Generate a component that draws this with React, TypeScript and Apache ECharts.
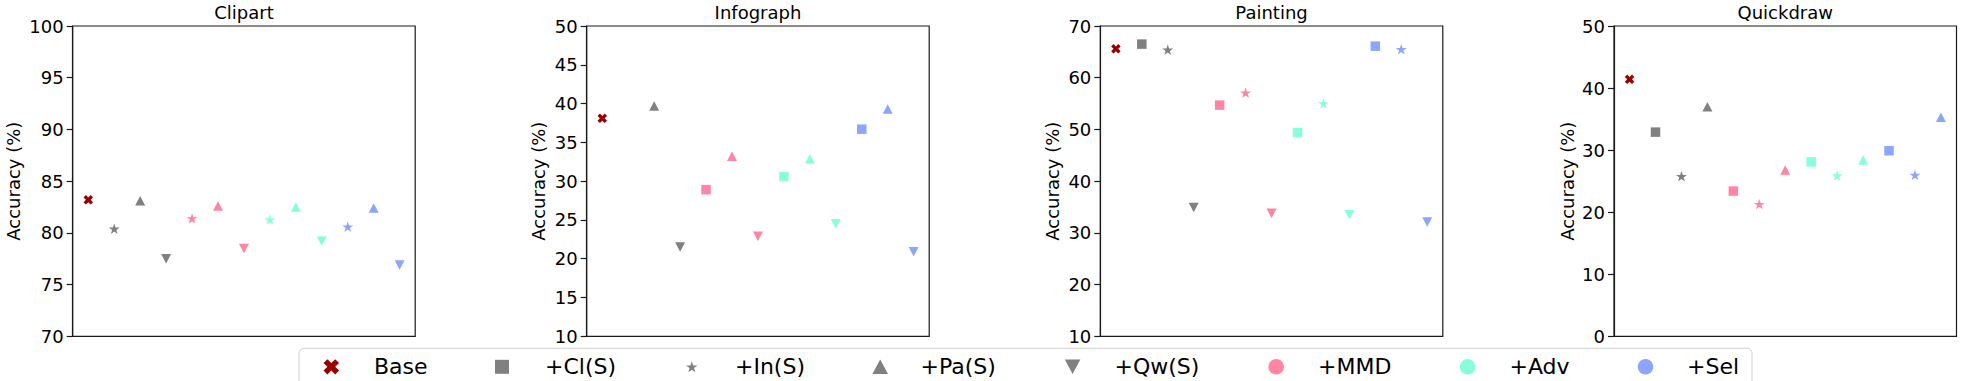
import React, { useEffect, useRef } from "react";
import * as echarts from "echarts";

// ---------------- data ----------------
const panelTitles = ["Clipart", "Infograph", "Painting", "Quickdraw"];
const yMinVals = [70, 10, 10, 0];
const yMaxVals = [100, 50, 70, 50];
const yStepVals = [5, 5, 10, 10];

// sources used in each panel (target domain excluded)
const panelSources = [
  ["+In(S)", "+Pa(S)", "+Qw(S)"],
  ["+Cl(S)", "+Pa(S)", "+Qw(S)"],
  ["+Cl(S)", "+In(S)", "+Qw(S)"],
  ["+Cl(S)", "+In(S)", "+Pa(S)"],
];

const baseAcc = [83.2, 38.1, 65.6, 41.4];
const srcOnlyAcc = [
  [80.4, 83.1, 77.5],
  [null, 39.7, 21.5],
  [66.5, 65.4, 34.9],
  [32.9, 25.8, 37.0],
];
const mmdAcc = [
  [81.4, 82.6, 78.5],
  [28.9, 33.2, 22.9],
  [54.7, 57.1, 33.8],
  [23.4, 21.3, 26.8],
];
const advAcc = [
  [81.3, 82.5, 79.2],
  [30.6, 32.9, 24.5],
  [49.4, 55.0, 33.5],
  [28.1, 25.9, 28.4],
];
const selAcc = [
  [80.6, 82.4, 76.9],
  [36.7, 39.3, 20.9],
  [66.1, 65.5, 32.1],
  [29.9, 26.0, 35.3],
];

const legendNames = ["Base", "+Cl(S)", "+In(S)", "+Pa(S)", "+Qw(S)", "+MMD", "+Adv", "+Sel"];

// ---------------- styles ----------------
const FONT = "DejaVu Sans";
const COL_BASE = "#9B0000";
const COL_SRC = "#808080";
const COL_MMD = "#FF85A2";
const COL_ADV = "#88FFDC";
const COL_SEL = "#8CA6FF";

const shapeOf: Record<string, string> = {
  "+Cl(S)": "square",
  "+In(S)": "star",
  "+Pa(S)": "tri",
  "+Qw(S)": "down",
};

function starPts(cx: number, cy: number, rx: number, ry: number) {
  const pts: number[][] = [];
  for (let k = 0; k < 10; k++) {
    const r = k % 2 ? 0.382 : 1;
    const a = ((-90 + 36 * k) * Math.PI) / 180;
    pts.push([cx + rx * r * Math.cos(a), cy + ry * r * Math.sin(a)]);
  }
  return pts;
}
const STAR_PATH =
  "path://" +
  starPts(50, 50, 50, 50)
    .map((p, i) => (i === 0 ? "M" : "L") + p[0].toFixed(2) + " " + p[1].toFixed(2))
    .join(" ") +
  " Z";
const X_UNIT = [
  [0, 15], [5, 20], [10, 15], [15, 20], [20, 15], [15, 10],
  [20, 5], [15, 0], [10, 5], [5, 0], [0, 5], [5, 10],
];
const X_PATH =
  "path://" + X_UNIT.map((p, i) => (i === 0 ? "M" : "L") + p[0] + " " + p[1]).join(" ") + " Z";

function symbolFor(kind: string) {
  switch (kind) {
    case "square":
      return { symbol: "rect", symbolSize: [9.5, 9.5], symbolRotate: 0 };
    case "star":
      return { symbol: STAR_PATH, symbolSize: [11, 11], symbolRotate: 0 };
    case "tri":
      return { symbol: "triangle", symbolSize: [10, 9.5], symbolRotate: 0 };
    case "down":
      return { symbol: "triangle", symbolSize: [10, 9.5], symbolRotate: 180 };
    default:
      return { symbol: X_PATH, symbolSize: [9.5, 9.5], symbolRotate: 0 };
  }
}

// layout
const gridLefts = [72.7, 586.7, 1100.3, 1614];
const gridWidth = 342.5;
const gridTop = 26;
const gridHeight = 310.3;
const nameGaps = [50, 39, 39, 38];

export default function App() {
  const ref = useRef<HTMLDivElement>(null);

  useEffect(() => {
    if (!ref.current) return;
    const chart = echarts.init(ref.current, null, { renderer: "svg" });

    const grids: any[] = [];
    const xAxes: any[] = [];
    const yAxes: any[] = [];
    const titles: any[] = [];
    const series: any[] = [];

    panelTitles.forEach((t, p) => {
      grids.push({
        left: gridLefts[p],
        top: gridTop,
        width: gridWidth,
        height: gridHeight,
        show: true,
        borderColor: "#1a1a1a",
        borderWidth: 1.2,
        backgroundColor: "transparent",
      });
      xAxes.push({
        type: "value",
        gridIndex: p,
        min: -0.6,
        max: 12.6,
        show: false,
      });
      yAxes.push({
        type: "value",
        gridIndex: p,
        min: yMinVals[p],
        max: yMaxVals[p],
        interval: yStepVals[p],
        name: "Accuracy (%)",
        nameLocation: "middle",
        nameGap: nameGaps[p],
        nameTextStyle: { fontFamily: FONT, fontSize: 18, color: "#000" },
        axisLine: { show: true, onZero: false, lineStyle: { color: "#1a1a1a", width: 1.2 } },
        axisTick: { show: true, length: 6, lineStyle: { color: "#1a1a1a", width: 1.2 } },
        axisLabel: { fontFamily: FONT, fontSize: 18, color: "#000", margin: 9 },
        splitLine: { show: false },
      });
      titles.push({
        text: t,
        left: gridLefts[p] + gridWidth / 2,
        textAlign: "center",
        top: 3,
        padding: 0,
        textStyle: { fontFamily: FONT, fontSize: 18, fontWeight: "normal", color: "#000" },
      });

      // Base
      const bs = symbolFor("x");
      series.push({
        type: "scatter",
        name: "Base",
        xAxisIndex: p,
        yAxisIndex: p,
        symbolKeepAspect: true,
        itemStyle: { color: COL_BASE, opacity: 1 },
        data: [{ value: [0, baseAcc[p]], ...bs }],
      });

      const groups = [
        { name: "Source", vals: srcOnlyAcc[p], color: COL_SRC },
        { name: "+MMD", vals: mmdAcc[p], color: COL_MMD },
        { name: "+Adv", vals: advAcc[p], color: COL_ADV },
        { name: "+Sel", vals: selAcc[p], color: COL_SEL },
      ];
      groups.forEach((g, m) => {
        const data: any[] = [];
        g.vals.forEach((v, j) => {
          if (v === null) return;
          const s = symbolFor(shapeOf[panelSources[p][j]]);
          data.push({ value: [1 + 3 * m + j, v], ...s });
        });
        series.push({
          type: "scatter",
          name: g.name,
          xAxisIndex: p,
          yAxisIndex: p,
          symbolKeepAspect: true,
          itemStyle: { color: g.color, opacity: 1 },
          data,
        });
      });
    });

    // ---- legend drawn with graphic elements ----
    const legendIconX = [331.3, 502, 691.8, 880.2, 1072.6, 1276.2, 1467.6, 1645.5];
    const legendTextX = [374, 545, 735, 920.5, 1114.5, 1318, 1509.5, 1687];
    const legendIconKind = ["x", "square", "star", "tri", "down", "circle", "circle", "circle"];
    const legendIconColor = [COL_BASE, COL_SRC, COL_SRC, COL_SRC, COL_SRC, COL_MMD, COL_ADV, COL_SEL];
    const ly = 366.8;
    const graphics: any[] = [
      {
        type: "rect",
        shape: { x: 299, y: 348.3, width: 1453, height: 60, r: 5 },
        style: { fill: "#ffffff", stroke: "#d0d0d0", lineWidth: 1 },
        z: 10,
      },
    ];
    legendNames.forEach((nm, i) => {
      const cx = legendIconX[i];
      const kind = legendIconKind[i];
      const fill = legendIconColor[i];
      let el: any;
      if (kind === "circle") {
        el = { type: "circle", shape: { cx, cy: ly, r: 7.8 }, style: { fill } };
      } else if (kind === "square") {
        el = { type: "rect", shape: { x: cx - 7, y: ly - 7, width: 14, height: 14 }, style: { fill } };
      } else if (kind === "star") {
        el = { type: "polygon", shape: { points: starPts(cx, ly + 0.6, 6.1, 6.1) }, style: { fill } };
      } else if (kind === "tri") {
        el = {
          type: "polygon",
          shape: { points: [[cx, ly - 7.2], [cx - 7.8, ly + 7.2], [cx + 7.8, ly + 7.2]] },
          style: { fill },
        };
      } else if (kind === "down") {
        el = {
          type: "polygon",
          shape: { points: [[cx, ly + 7.2], [cx - 7.8, ly - 7.2], [cx + 7.8, ly - 7.2]] },
          style: { fill },
        };
      } else {
        el = {
          type: "polygon",
          shape: {
            points: X_UNIT.map((q) => [cx + (q[0] - 10) * 0.78, ly + (q[1] - 10) * 0.76]),
          },
          style: { fill },
        };
      }
      el.z = 11;
      graphics.push(el);
      graphics.push({
        type: "text",
        x: legendTextX[i],
        y: ly,
        z: 11,
        style: {
          text: nm,
          x: 0,
          y: 0,
          fontFamily: FONT,
          fontSize: 22,
          fill: "#000",
          textAlign: "left",
          textVerticalAlign: "middle",
          verticalAlign: "middle",
        },
      });
    });

    chart.setOption({
      animation: false,
      backgroundColor: "#ffffff",
      title: titles,
      grid: grids,
      xAxis: xAxes,
      yAxis: yAxes,
      series,
      graphic: graphics,
    });

    return () => chart.dispose();
  }, []);

  return (
    <div
      ref={ref}
      style={{ position: "fixed", left: 0, top: 0, width: 1962, height: 381, background: "#fff" }}
    />
  );
}
